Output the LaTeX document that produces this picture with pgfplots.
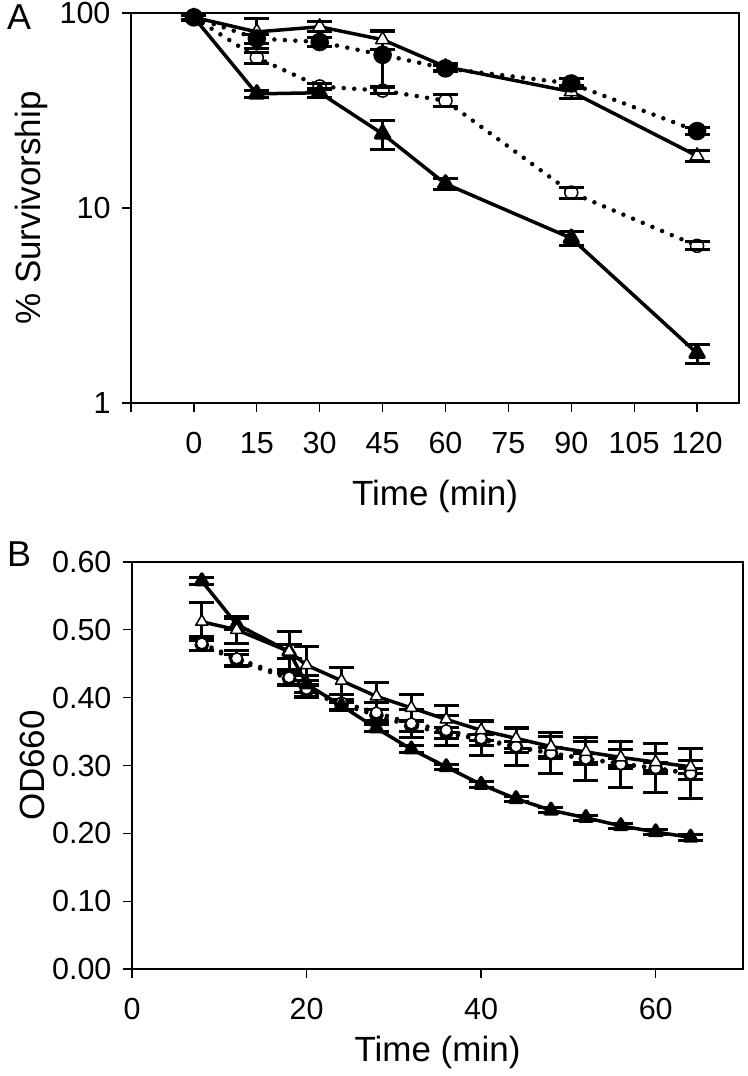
\documentclass[border=0pt]{standalone}
\usepackage{pgfplots}
\pgfplotsset{compat=1.18}
\usepackage{pgfplotstable}
\usepackage{fontspec}
\setmainfont{Liberation Sans}

% Panel A data
\pgfplotstableread{
x y
0 95
15 80
30 85
45 73
60 53
90 39.5
120 18.5
}\Aopentri
\pgfplotstableread{
x y
0 95
15 38.5
30 39
45 24
60 13.3
90 7.0
120 1.8
}\Afilltri
\pgfplotstableread{
x y
0 95
15 74
30 71
45 61
60 52
90 43.5
120 24.8
}\Afillcirc
\pgfplotstableread{
x y
0 95
15 59
30 42
45 40
60 35.5
90 12
120 6.4
}\Aopencirc
% error bars of panel A: x, low / x, high
\pgfplotstableread{
x y
0 93
0 97
nan nan
15 66
15 94
nan nan
30 80
30 90
nan nan
45 65
45 81
nan nan
60 51
60 55
nan nan
90 36.5
90 42.5
nan nan
120 17.3
120 19.7
nan nan
0 92
0 98
nan nan
15 37
15 40
nan nan
30 37
30 41
nan nan
45 20
45 28
nan nan
60 12.5
60 14.1
nan nan
90 6.4
90 7.6
nan nan
120 1.6
120 2.0
nan nan
15 70
15 78
nan nan
30 67
30 75
nan nan
45 42
45 80
nan nan
60 50
60 54
nan nan
90 41
90 46
nan nan
120 23.8
120 25.8
nan nan
15 55
15 63
nan nan
30 40.5
30 43.5
nan nan
45 38.5
45 41.5
nan nan
60 33
60 38
nan nan
90 11.2
90 12.8
nan nan
120 6.1
120 6.7
}\Aerr

% Panel B data
\pgfplotstableread{
x y e
8 0.572 0.005
12 0.508 0.008
18 0.468 0.010
20 0.420 0.012
24 0.388 0.005
28 0.355 0.005
32 0.324 0.005
36 0.298 0.004
40 0.272 0.004
44 0.251 0.004
48 0.234 0.004
52 0.223 0.004
56 0.211 0.004
60 0.202 0.004
64 0.194 0.004
}\Bfilltri
\pgfplotstableread{
x y e
8 0.512 0.028
12 0.500 0.020
18 0.468 0.030
20 0.448 0.028
24 0.425 0.020
28 0.402 0.020
32 0.385 0.020
36 0.368 0.020
40 0.352 0.015
44 0.340 0.015
48 0.328 0.015
52 0.320 0.015
56 0.312 0.012
60 0.305 0.012
64 0.298 0.010
}\Bopentri
\pgfplotstableread{
x y e
8 0.480 0.010
12 0.458 0.012
18 0.430 0.012
20 0.413 0.012
24 0.393 0.012
28 0.378 0.015
32 0.362 0.020
36 0.352 0.022
40 0.340 0.025
44 0.328 0.028
48 0.318 0.030
52 0.310 0.032
56 0.302 0.034
60 0.296 0.036
64 0.288 0.037
}\Bopencirc
\pgfplotstableread{
x y e
8 0.478 0.008
12 0.455 0.008
18 0.428 0.008
20 0.410 0.008
24 0.390 0.008
28 0.374 0.008
32 0.358 0.008
36 0.348 0.008
40 0.338 0.008
44 0.327 0.008
48 0.318 0.008
52 0.310 0.008
56 0.303 0.008
60 0.296 0.008
64 0.288 0.008
}\Bfillcirc

\pgfplotsset{
  myaxis/.style={
    scale only axis,
    tick align=outside,
    tick pos=left,
    major tick length=9pt,
    every tick/.style={black, line width=1.3pt},
    axis line style={line width=1.3pt},
    tick label style={font=\fontsize{30.5}{32}\selectfont},
    xticklabel style={yshift=-17pt},
    yticklabel style={xshift=-8pt},
    label style={font=\fontsize{35}{37}\selectfont},
    /pgf/number format/assume math mode=true,
    clip=false,
  },
  errs/.style={
    error bars/.cd, y dir=both, y explicit,
    error bar style={line width=3pt, solid},
    error mark options={rotate=90, mark size=12.5pt, line width=3pt, solid},
  },
  errseg/.style={black, line width=3pt, solid, mark=-, mark size=12.5pt,
    mark options={solid, line width=3pt}, unbounded coords=jump},
  solidser/.style={black, line width=3.5pt, line join=round},
  dotser/.style={black, line width=4.5pt, line cap=round, dash pattern=on 0pt off 10.5pt},
  tri/.style={mark=triangle*, mark size=8pt, mark options={solid, fill=black}},
  otri/.style={mark=triangle*, mark size=8pt, mark options={solid, fill=white, line width=1.5pt}},
  circ/.style={mark=*, mark size=7pt, mark options={solid, fill=black}},
  ocirc/.style={mark=*, mark size=6.5pt, mark options={solid, fill=white, line width=1.5pt}},
}

\begin{document}
\begin{tikzpicture}
\path[use as bounding box] (0pt,0pt) rectangle (747pt,-1076pt);

\node[anchor=north west, inner sep=0pt, font=\fontsize{36}{38}\selectfont] at (7pt,-5pt) {A};
\node[anchor=north west, inner sep=0pt, font=\fontsize{36}{38}\selectfont] at (7pt,-542pt) {B};

\begin{axis}[myaxis,
  at={(131pt,-403pt)}, anchor=south west,
  width=608pt, height=390pt,
  xmin=-15, xmax=130,
  ymode=log, ymin=1, ymax=100,
  xtick={-15,0,15,30,45,60,75,90,105,120},
  xticklabels={,0,15,30,45,60,75,90,105,120},
  ytick={1,10,100}, yticklabels={1,10,100},
  yminorticks=false,
  xlabel={Time (min)}, ylabel={\% Survivorship},
  xlabel style={yshift=-19pt},
  ylabel style={yshift=5pt},
]
\addplot[dotser, ocirc] table[x=x, y=y] {\Aopencirc};
\addplot[solidser, otri] table[x=x, y=y] {\Aopentri};
\addplot[dotser, circ] table[x=x, y=y] {\Afillcirc};
\addplot[solidser, tri] table[x=x, y=y] {\Afilltri};
\addplot[errseg] table[x=x, y=y] {\Aerr};
\end{axis}

\begin{axis}[myaxis,
  at={(132pt,-969pt)}, anchor=south west,
  width=611pt, height=407pt,
  xmin=0, xmax=70, ymin=0, ymax=0.6,
  xtick={0,20,40,60},
  ytick={0,0.1,0.2,0.3,0.4,0.5,0.6},
  yticklabel style={/pgf/number format/.cd, fixed, fixed zerofill, precision=2},
  xlabel={Time (min)}, ylabel={OD660},
  xlabel style={yshift=-9pt},
  tri/.style={mark=triangle*, mark size=7pt, mark options={solid, fill=black}},
  otri/.style={mark=triangle*, mark size=7pt, mark options={solid, fill=white, line width=1.5pt}},
  circ/.style={mark=*, mark size=5pt, mark options={solid, fill=black}},
  ocirc/.style={mark=*, mark size=5.5pt, mark options={solid, fill=white, line width=1.5pt}},
]
\addplot[dotser, circ, errs] table[x=x, y=y, y error=e] {\Bfillcirc};
\addplot[dotser, ocirc, errs] table[x=x, y=y, y error=e] {\Bopencirc};
\addplot[solidser, tri, errs] table[x=x, y=y, y error=e] {\Bfilltri};
\addplot[solidser, otri, errs] table[x=x, y=y, y error=e] {\Bopentri};
\end{axis}
\end{tikzpicture}
\end{document}
